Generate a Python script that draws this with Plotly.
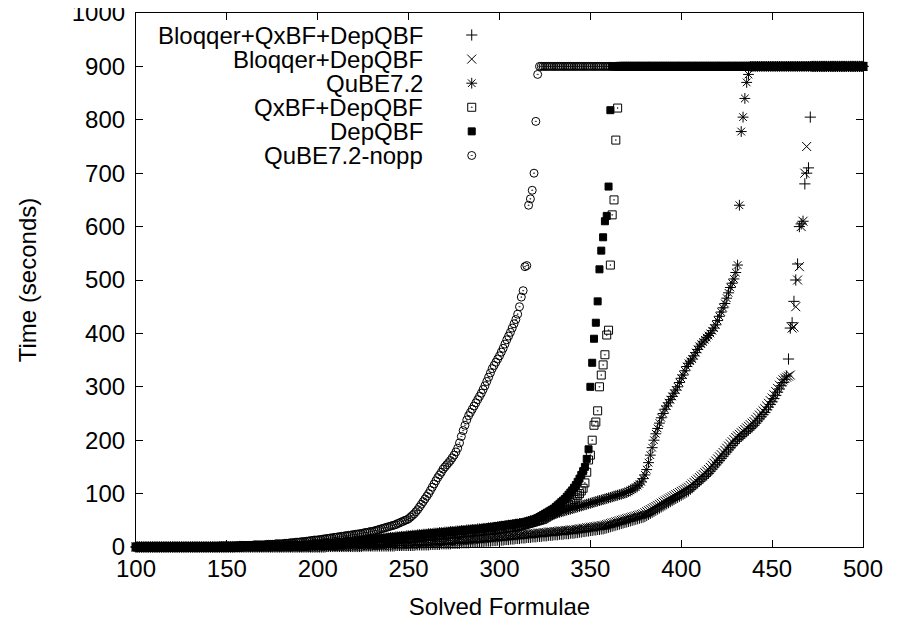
import plotly.graph_objects as go

# formula counts on the x axis start here, one time value per formula
first_formula = 100

series_names = ["Bloqqer+QxBF+DepQBF", "Bloqqer+DepQBF", "QuBE7.2",
                "QxBF+DepQBF", "DepQBF", "QuBE7.2-nopp"]

bloqqer_qxbf_depqbf = [
    0, 0, 0, 0, 0, 0, 0, 0, 0, 0,  # 100
    0, 0, 0, 0, 0, 0, 0, 0, 0, 0,
    0, 0, 0, 0, 0, 0, 0, 0, 0, 0,
    0, 0, 0, 0, 0, 0, 0, 0, 0, 0,
    0, 0, 0, 0, 0, 0, 0, 0, 0, 0,
    0, 0, 0, 0, 0, 0, 0, 0, 0, 0,  # 150
    0, 0, 0, 0, 0, 0, 0, 0, 0, 0,
    0, 0, 0, 0, 0, 0, 0, 0, 0, 0,
    0, 0, 0, 0, 0, 0, 0, 0, 0, 0,
    0, 0, 0, 0, 0, 0, 0, 0, 0, 0,
    0, 0, 0, 0, 0, 1, 1, 1, 1, 1,  # 200
    1, 1, 1, 1, 1, 1, 1, 1, 1, 1,
    1, 1, 1, 1, 1, 2, 2, 2, 2, 2,
    2, 2, 2, 2, 2, 2, 2, 2, 2, 2,
    2, 2, 2, 3, 3, 3, 3, 3, 3, 3,
    3, 3, 3, 3, 4, 4, 4, 4, 4, 4,  # 250
    4, 4, 5, 5, 5, 5, 5, 5, 6, 6,
    6, 6, 6, 6, 7, 7, 7, 7, 7, 8,
    8, 8, 8, 8, 9, 9, 9, 9, 10, 10,
    10, 10, 11, 11, 11, 11, 12, 12, 12, 13,
    13, 13, 13, 14, 14, 14, 15, 15, 15, 16,  # 300
    16, 16, 17, 17, 17, 18, 18, 18, 19, 19,
    19, 20, 20, 20, 21, 21, 21, 22, 22, 22,
    23, 23, 23, 24, 24, 24, 25, 25, 25, 26,
    26, 26, 27, 27, 28, 28, 29, 29, 30, 30,
    31, 31, 32, 32, 33, 33, 34, 34, 35, 36,  # 350
    37, 38, 39, 40, 41, 42, 43, 44, 45, 46,
    47, 48, 49, 50, 51, 52, 53, 54, 55, 56,
    57, 59, 61, 63, 65, 67, 69, 71, 73, 75,
    77, 79, 81, 83, 85, 87, 89, 91, 93, 95,
    97, 99, 101, 103, 105, 108, 111, 114, 117, 120,  # 400
    123, 126, 129, 132, 135, 138, 142, 146, 150, 154,
    158, 162, 166, 170, 174, 178, 182, 186, 190, 194,
    198, 201, 204, 207, 210, 213, 216, 219, 222, 225,
    228, 232, 236, 240, 244, 248, 252, 257, 262, 267,
    272, 278, 284, 290, 296, 302, 308, 314, 320, 352,  # 450
    410, 420, 460, 500, 530, 600, 605, 610, 680, 700,
    710, 805, 900, 900, 900, 900, 900, 900, 900, 900,
    900, 900, 900, 900, 900, 900, 900, 900, 900, 900,
    900, 900, 900, 900, 900, 900, 900, 900, 900, 900,
    900,  # 500
]

bloqqer_depqbf = [
    0, 0, 0, 0, 0, 0, 0, 0, 0, 0,  # 100
    0, 0, 0, 0, 0, 0, 0, 0, 0, 0,
    0, 0, 0, 0, 0, 0, 0, 0, 0, 0,
    0, 0, 0, 0, 0, 0, 0, 0, 0, 0,
    0, 0, 0, 0, 0, 0, 0, 0, 0, 0,
    0, 0, 0, 0, 0, 0, 0, 0, 0, 0,  # 150
    0, 0, 0, 0, 0, 0, 0, 0, 0, 0,
    0, 0, 0, 0, 0, 0, 0, 0, 0, 0,
    0, 0, 0, 0, 0, 0, 0, 0, 0, 0,
    0, 0, 0, 0, 0, 0, 0, 0, 0, 0,
    0, 0, 0, 0, 1, 1, 1, 1, 1, 1,  # 200
    1, 1, 1, 1, 1, 1, 1, 2, 2, 2,
    2, 2, 2, 2, 2, 2, 2, 2, 3, 3,
    3, 3, 3, 3, 3, 3, 3, 4, 4, 4,
    4, 4, 4, 4, 4, 5, 5, 5, 5, 5,
    5, 5, 5, 6, 6, 6, 6, 6, 7, 7,  # 250
    7, 7, 7, 8, 8, 8, 8, 9, 9, 9,
    9, 10, 10, 10, 10, 11, 11, 11, 12, 12,
    12, 12, 13, 13, 13, 14, 14, 14, 15, 15,
    15, 16, 16, 16, 17, 17, 17, 18, 18, 18,
    19, 19, 19, 20, 20, 20, 21, 21, 21, 22,  # 300
    22, 22, 23, 23, 23, 24, 24, 24, 25, 25,
    25, 26, 26, 26, 27, 27, 27, 28, 28, 28,
    29, 29, 29, 30, 30, 30, 31, 31, 31, 32,
    32, 32, 33, 33, 34, 34, 35, 35, 36, 36,
    37, 37, 38, 38, 39, 39, 40, 40, 41, 42,  # 350
    43, 44, 45, 46, 47, 48, 49, 50, 51, 52,
    53, 54, 55, 56, 57, 58, 59, 60, 61, 62,
    64, 66, 68, 70, 72, 74, 76, 78, 80, 82,
    84, 86, 88, 90, 92, 94, 96, 98, 100, 102,
    104, 106, 108, 110, 112, 115, 118, 121, 124, 127,  # 400
    130, 133, 136, 139, 142, 145, 149, 153, 157, 161,
    165, 169, 173, 177, 181, 185, 189, 193, 197, 201,
    205, 208, 211, 214, 217, 220, 223, 226, 229, 232,
    235, 239, 243, 247, 251, 255, 259, 264, 269, 274,
    279, 285, 291, 297, 303, 309, 313, 316, 318, 320,  # 450
    322, 410, 412, 450, 500, 525, 600, 610, 700, 750,
    900, 900, 900, 900, 900, 900, 900, 900, 900, 900,
    900, 900, 900, 900, 900, 900, 900, 900, 900, 900,
    900, 900, 900, 900, 900, 900, 900, 900, 900, 900,
    900,  # 500
]

qube72 = [
    0, 0, 0, 0, 0, 0, 0, 0, 0, 0,  # 100
    0, 0, 0, 0, 0, 0, 0, 0, 0, 0,
    0, 0, 0, 0, 0, 0, 0, 0, 0, 0,
    0, 0, 0, 0, 0, 0, 0, 0, 0, 0,
    0, 0, 0, 0, 0, 0, 0, 0, 0, 0,
    0, 0, 0, 0, 0, 1, 1, 1, 1, 1,  # 150
    1, 1, 1, 1, 1, 1, 1, 1, 1, 1,
    1, 1, 1, 1, 1, 2, 2, 2, 2, 2,
    2, 2, 2, 2, 3, 3, 3, 3, 3, 3,
    3, 4, 4, 4, 4, 4, 5, 5, 5, 5,
    5, 6, 6, 6, 6, 7, 7, 7, 7, 8,  # 200
    8, 8, 8, 9, 9, 9, 10, 10, 10, 11,
    11, 11, 12, 12, 12, 13, 13, 13, 14, 14,
    14, 15, 15, 15, 16, 16, 16, 17, 17, 17,
    18, 18, 18, 19, 19, 19, 20, 20, 20, 21,
    21, 21, 22, 22, 22, 23, 23, 23, 24, 24,  # 250
    24, 25, 25, 25, 26, 26, 26, 27, 27, 27,
    28, 28, 28, 29, 29, 29, 30, 30, 30, 31,
    31, 31, 32, 32, 32, 33, 33, 33, 34, 34,
    34, 35, 35, 35, 36, 36, 36, 37, 37, 38,
    38, 39, 39, 40, 40, 41, 41, 42, 42, 43,  # 300
    43, 44, 44, 45, 46, 47, 48, 49, 50, 51,
    52, 53, 54, 55, 56, 57, 58, 59, 60, 61,
    62, 63, 64, 65, 66, 67, 68, 69, 70, 71,
    72, 73, 74, 75, 76, 77, 78, 79, 80, 81,
    82, 83, 84, 85, 86, 87, 88, 89, 90, 91,  # 350
    92, 93, 94, 95, 96, 97, 98, 99, 100, 101,
    102, 104, 106, 108, 110, 112, 115, 118, 122, 128,
    135, 145, 158, 172, 186, 200, 212, 222, 232, 242,
    250, 258, 264, 270, 276, 282, 288, 294, 300, 308,
    316, 322, 330, 338, 344, 348, 352, 358, 364, 370,  # 400
    376, 380, 384, 388, 392, 396, 400, 405, 410, 416,
    424, 432, 440, 448, 456, 466, 476, 486, 494, 502,
    514, 528, 640, 778, 805, 840, 870, 885, 900, 900,
    900, 900, 900, 900, 900, 900, 900, 900, 900, 900,
    900, 900, 900, 900, 900, 900, 900, 900, 900, 900,  # 450
    900, 900, 900, 900, 900, 900, 900, 900, 900, 900,
    900, 900, 900, 900, 900, 900, 900, 900, 900, 900,
    900, 900, 900, 900, 900, 900, 900, 900, 900, 900,
    900, 900, 900, 900, 900, 900, 900, 900, 900, 900,
    900,  # 500
]

qxbf_depqbf = [
    0, 0, 0, 0, 0, 0, 0, 0, 0, 0,  # 100
    0, 0, 0, 0, 0, 0, 0, 0, 0, 0,
    0, 0, 0, 0, 0, 0, 0, 0, 0, 0,
    0, 0, 0, 0, 0, 0, 0, 0, 0, 0,
    0, 0, 0, 0, 0, 0, 0, 0, 0, 0,
    0, 0, 0, 0, 0, 0, 0, 0, 1, 1,  # 150
    1, 1, 1, 1, 1, 1, 1, 1, 1, 1,
    1, 1, 1, 1, 1, 1, 1, 1, 1, 1,
    1, 1, 1, 1, 1, 2, 2, 2, 2, 2,
    2, 2, 2, 2, 2, 2, 3, 3, 3, 3,
    3, 3, 3, 3, 4, 4, 4, 4, 4, 5,  # 200
    5, 5, 5, 5, 6, 6, 6, 6, 7, 7,
    7, 7, 8, 8, 8, 8, 9, 9, 9, 10,
    10, 10, 10, 11, 11, 11, 12, 12, 12, 13,
    13, 13, 14, 14, 14, 15, 15, 15, 16, 16,
    16, 17, 17, 17, 18, 18, 18, 19, 19, 19,  # 250
    20, 20, 20, 21, 21, 21, 22, 22, 22, 23,
    23, 23, 24, 24, 24, 25, 25, 25, 26, 26,
    26, 27, 27, 27, 28, 28, 28, 29, 29, 29,
    30, 30, 30, 31, 31, 31, 32, 32, 32, 33,
    33, 34, 34, 35, 35, 36, 36, 37, 37, 38,  # 300
    38, 39, 40, 41, 42, 43, 44, 45, 46, 47,
    48, 49, 50, 51, 52, 54, 56, 58, 60, 62,
    64, 66, 68, 70, 72, 74, 76, 78, 80, 83,
    86, 89, 92, 96, 100, 105, 110, 120, 140, 163,
    172, 200, 228, 234, 255, 300, 322, 341, 360, 397,  # 350
    406, 528, 622, 650, 762, 822, 900, 900, 900, 900,
    900, 900, 900, 900, 900, 900, 900, 900, 900, 900,
    900, 900, 900, 900, 900, 900, 900, 900, 900, 900,
    900, 900, 900, 900, 900, 900, 900, 900, 900, 900,
    900, 900, 900, 900, 900, 900, 900, 900, 900, 900,  # 400
    900, 900, 900, 900, 900, 900, 900, 900, 900, 900,
    900, 900, 900, 900, 900, 900, 900, 900, 900, 900,
    900, 900, 900, 900, 900, 900, 900, 900, 900, 900,
    900, 900, 900, 900, 900, 900, 900, 900, 900, 900,
    900, 900, 900, 900, 900, 900, 900, 900, 900, 900,  # 450
    900, 900, 900, 900, 900, 900, 900, 900, 900, 900,
    900, 900, 900, 900, 900, 900, 900, 900, 900, 900,
    900, 900, 900, 900, 900, 900, 900, 900, 900, 900,
    900, 900, 900, 900, 900, 900, 900, 900, 900, 900,
    900,  # 500
]

depqbf = [
    0, 0, 0, 0, 0, 0, 0, 0, 0, 0,  # 100
    0, 0, 0, 0, 0, 0, 0, 0, 0, 0,
    0, 0, 0, 0, 0, 0, 0, 0, 0, 0,
    0, 0, 0, 0, 0, 0, 0, 0, 0, 0,
    0, 0, 0, 0, 0, 0, 0, 0, 0, 0,
    0, 0, 0, 0, 0, 1, 1, 1, 1, 1,  # 150
    1, 1, 1, 1, 1, 1, 1, 1, 1, 1,
    1, 1, 1, 1, 1, 1, 2, 2, 2, 2,
    2, 2, 2, 2, 2, 3, 3, 3, 3, 3,
    3, 3, 4, 4, 4, 4, 4, 5, 5, 5,
    5, 5, 6, 6, 6, 6, 7, 7, 7, 7,  # 200
    8, 8, 8, 9, 9, 9, 10, 10, 10, 11,
    11, 11, 12, 12, 12, 13, 13, 13, 14, 14,
    14, 15, 15, 15, 16, 16, 16, 17, 17, 17,
    18, 18, 18, 19, 19, 19, 20, 20, 20, 21,
    21, 21, 22, 22, 22, 23, 23, 23, 24, 24,  # 250
    24, 25, 25, 25, 26, 26, 26, 27, 27, 27,
    28, 28, 28, 29, 29, 29, 30, 30, 30, 31,
    31, 31, 32, 32, 32, 33, 33, 33, 34, 34,
    34, 35, 35, 36, 36, 37, 37, 38, 38, 39,
    39, 40, 40, 41, 41, 42, 42, 43, 43, 44,  # 300
    44, 45, 45, 46, 46, 47, 48, 49, 50, 51,
    52, 54, 56, 58, 60, 62, 64, 66, 68, 70,
    72, 75, 78, 81, 84, 87, 90, 94, 98, 102,
    106, 111, 116, 122, 128, 135, 142, 150, 165, 183,
    300, 345, 390, 420, 460, 520, 555, 580, 610, 620,  # 350
    675, 818, 900, 900, 900, 900, 900, 900, 900, 900,
    900, 900, 900, 900, 900, 900, 900, 900, 900, 900,
    900, 900, 900, 900, 900, 900, 900, 900, 900, 900,
    900, 900, 900, 900, 900, 900, 900, 900, 900, 900,
    900, 900, 900, 900, 900, 900, 900, 900, 900, 900,  # 400
    900, 900, 900, 900, 900, 900, 900, 900, 900, 900,
    900, 900, 900, 900, 900, 900, 900, 900, 900, 900,
    900, 900, 900, 900, 900, 900, 900, 900, 900, 900,
    900, 900, 900, 900, 900, 900, 900, 900, 900, 900,
    900, 900, 900, 900, 900, 900, 900, 900, 900, 900,  # 450
    900, 900, 900, 900, 900, 900, 900, 900, 900, 900,
    900, 900, 900, 900, 900, 900, 900, 900, 900, 900,
    900, 900, 900, 900, 900, 900, 900, 900, 900, 900,
    900, 900, 900, 900, 900, 900, 900, 900, 900, 900,
    900,  # 500
]

qube72_nopp = [
    0, 0, 0, 0, 0, 0, 0, 0, 0, 0,  # 100
    0, 0, 0, 0, 0, 0, 0, 0, 0, 0,
    0, 0, 0, 0, 0, 0, 0, 1, 1, 1,
    1, 1, 1, 1, 1, 1, 1, 1, 1, 1,
    1, 1, 1, 1, 1, 1, 2, 2, 2, 2,
    2, 2, 2, 2, 2, 2, 2, 3, 3, 3,  # 150
    3, 3, 3, 3, 3, 4, 4, 4, 4, 4,
    4, 4, 5, 5, 5, 5, 5, 6, 6, 6,
    6, 6, 7, 7, 7, 8, 8, 8, 9, 9,
    9, 10, 10, 10, 11, 11, 12, 12, 13, 13,
    13, 14, 14, 15, 15, 16, 16, 17, 17, 18,  # 200
    18, 19, 19, 20, 20, 21, 21, 22, 22, 23,
    23, 24, 24, 25, 25, 26, 27, 27, 28, 29,
    29, 30, 31, 32, 33, 34, 35, 36, 37, 38,
    39, 40, 41, 42, 44, 45, 47, 48, 50, 51,
    53, 56, 59, 62, 66, 70, 75, 80, 85, 90,  # 250
    95, 100, 106, 112, 118, 124, 130, 135, 140, 146,
    150, 154, 158, 162, 167, 172, 178, 185, 195, 207,
    218, 228, 238, 246, 252, 258, 264, 270, 276, 282,
    288, 295, 302, 310, 318, 326, 334, 340, 346, 352,
    358, 365, 372, 380, 388, 395, 402, 410, 418, 426,  # 300
    436, 450, 468, 480, 525, 527, 640, 652, 668, 700,
    797, 885, 900, 900, 900, 900, 900, 900, 900, 900,
    900, 900, 900, 900, 900, 900, 900, 900, 900, 900,
    900, 900, 900, 900, 900, 900, 900, 900, 900, 900,
    900, 900, 900, 900, 900, 900, 900, 900, 900, 900,  # 350
    900, 900, 900, 900, 900, 900, 900, 900, 900, 900,
    900, 900, 900, 900, 900, 900, 900, 900, 900, 900,
    900, 900, 900, 900, 900, 900, 900, 900, 900, 900,
    900, 900, 900, 900, 900, 900, 900, 900, 900, 900,
    900, 900, 900, 900, 900, 900, 900, 900, 900, 900,  # 400
    900, 900, 900, 900, 900, 900, 900, 900, 900, 900,
    900, 900, 900, 900, 900, 900, 900, 900, 900, 900,
    900, 900, 900, 900, 900, 900, 900, 900, 900, 900,
    900, 900, 900, 900, 900, 900, 900, 900, 900, 900,
    900, 900, 900, 900, 900, 900, 900, 900, 900, 900,  # 450
    900, 900, 900, 900, 900, 900, 900, 900, 900, 900,
    900, 900, 900, 900, 900, 900, 900, 900, 900, 900,
    900, 900, 900, 900, 900, 900, 900, 900, 900, 900,
    900, 900, 900, 900, 900, 900, 900, 900, 900, 900,
    900,  # 500
]

all_series = [bloqqer_qxbf_depqbf, bloqqer_depqbf, qube72,
              qxbf_depqbf, depqbf, qube72_nopp]

# gnuplot point types 1..6
symbols = ["cross-thin-open", "x-thin-open", "asterisk-open",
           "square-open-dot", "square", "circle-open-dot"]
sizes = [8, 9, 9, 8, 7, 8]

font = "Liberation Sans, Arial, Helvetica, sans-serif"
fsize = 24

fig = go.Figure()

for name, times, sym, sz in zip(series_names, all_series, symbols, sizes):
    xs = list(range(first_formula, first_formula + len(times)))
    fig.add_trace(go.Scatter(
        x=xs, y=times, mode="markers", name=name, showlegend=False,
        cliponaxis=False,
        marker=dict(symbol=sym, size=sz, color="black",
                    line=dict(color="black", width=1)),
    ))

# key drawn gnuplot style: label right aligned, sample point to its right
for row, (name, sym, sz) in enumerate(zip(series_names, symbols, sizes)):
    fig.add_trace(go.Scatter(
        x=[0.4618], y=[row], xaxis="x2", yaxis="y2", mode="markers",
        showlegend=False, hoverinfo="skip",
        marker=dict(symbol=sym, size=sz, color="black",
                    line=dict(color="black", width=1)),
    ))
    fig.add_annotation(x=0.397, y=row, xref="x2", yref="y2", text=name,
                       showarrow=False, xanchor="right", yanchor="middle",
                       font=dict(family=font, size=fsize, color="black"))

axis_common = dict(showline=True, linecolor="black", linewidth=1.2,
                   mirror="ticks", ticks="inside", ticklen=7, tickwidth=1,
                   tickcolor="black", showgrid=False, zeroline=False,
                   automargin=False, ticklabeloverflow="allow",
                   tickfont=dict(family=font, size=fsize, color="black"))

# the page body adds an 8px offset, so the figure is 8px smaller each way
fig.update_layout(
    width=890, height=615,
    margin=dict(l=128, r=35, t=5, b=76),
    paper_bgcolor="white", plot_bgcolor="white",
    font=dict(family=font, size=fsize, color="black"),
    xaxis=dict(range=[100, 500], tick0=100, dtick=50, ticklabelstandoff=0,
               title=dict(text="Solved Formulae", standoff=17,
                          font=dict(family=font, size=fsize)),
               **axis_common),
    yaxis=dict(range=[0, 1000], tick0=0, dtick=100, ticklabelstandoff=5,
               title=dict(text="Time (seconds)", standoff=28,
                          font=dict(family=font, size=fsize)),
               **axis_common),
    xaxis2=dict(overlaying="x", range=[0, 1], visible=False),
    yaxis2=dict(overlaying="y", range=[21.25, -0.913], visible=False),
)

fig.write_html("out.html")
